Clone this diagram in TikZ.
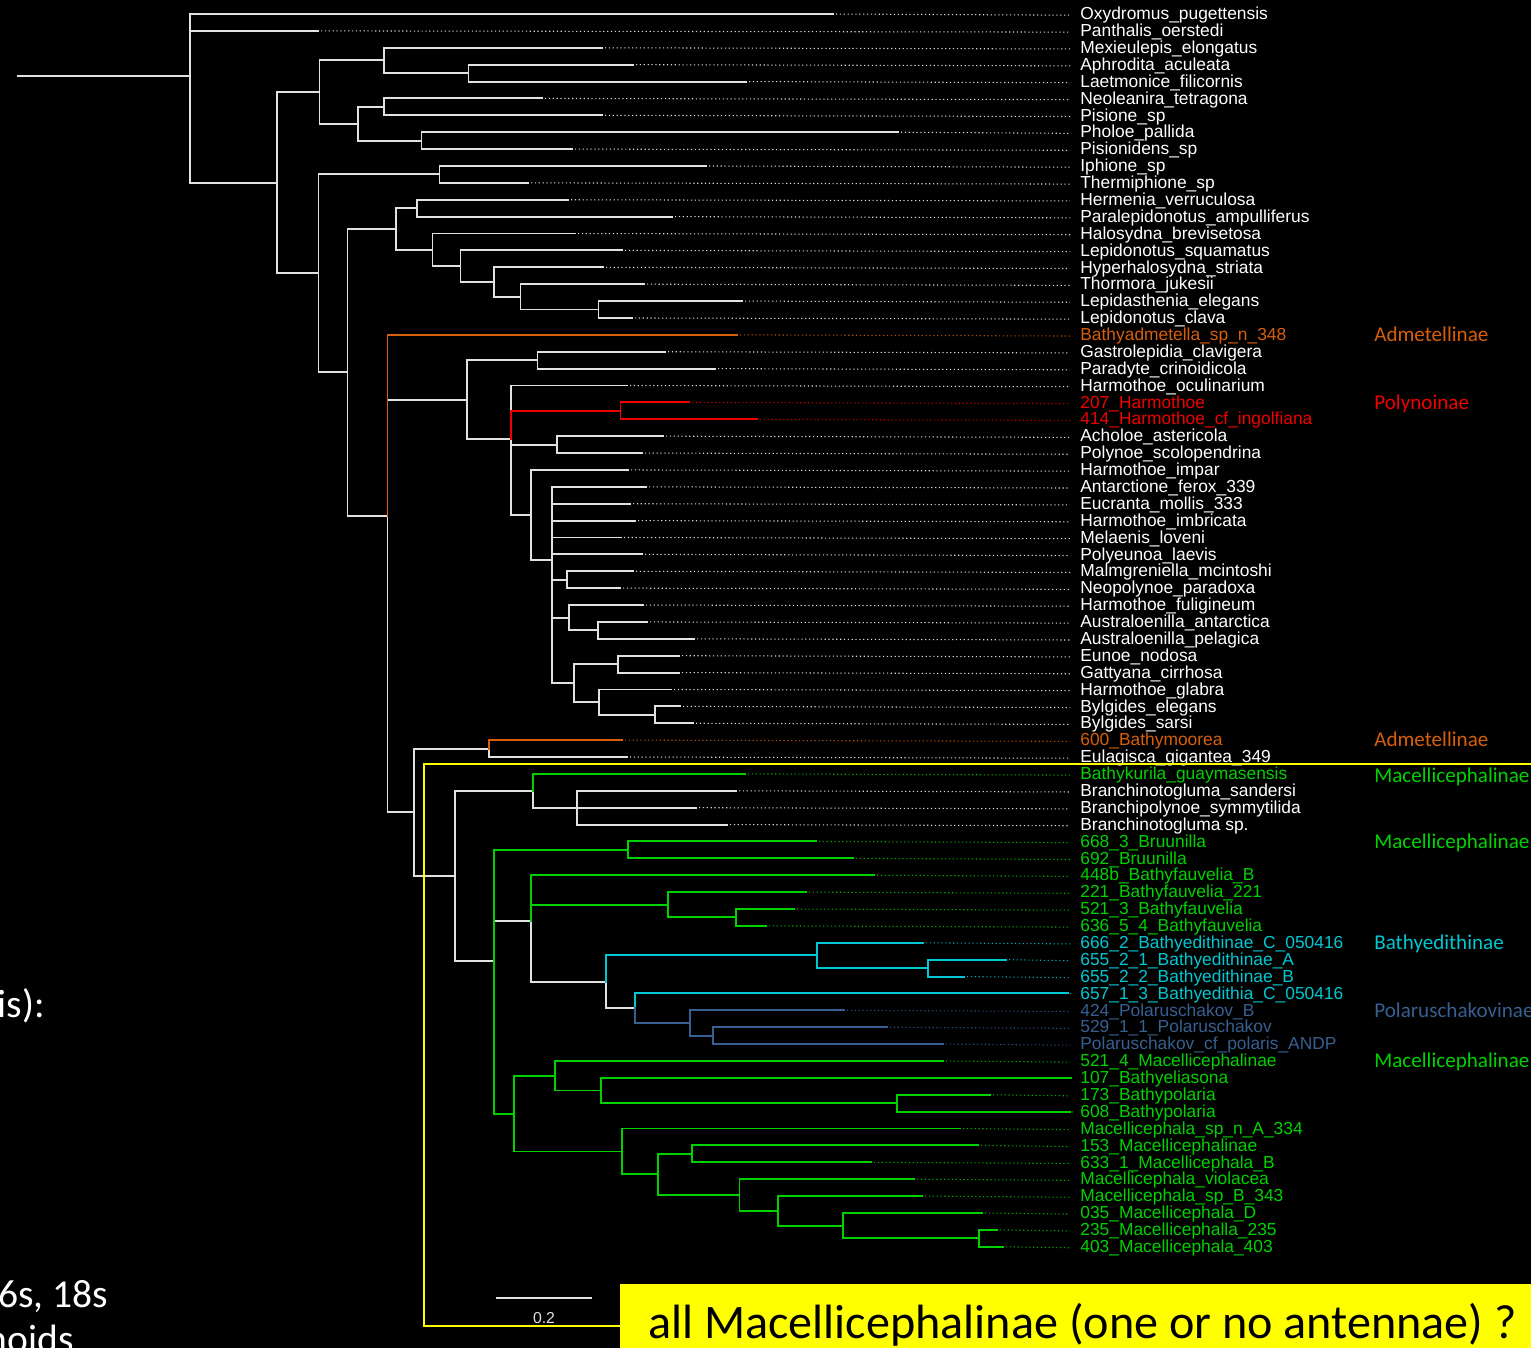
\documentclass[tikz,border=0pt]{standalone}
\usepackage{fontspec}
\setmainfont{Liberation Sans}
\newfontfamily\calfont{Carlito}
\usetikzlibrary{positioning}
\definecolor{treegray}{RGB}{225,225,225}
\definecolor{admorange}{RGB}{215,95,10}
\definecolor{polyred}{RGB}{240,0,0}
\definecolor{macgreen}{RGB}{0,210,0}
\definecolor{bathycyan}{RGB}{0,200,210}
\definecolor{polarblue}{RGB}{55,95,145}
\definecolor{markyellow}{RGB}{255,255,0}

\begin{document}
\begin{tikzpicture}[x=0.02cm, y=-0.02cm]
        \tikzstyle{branch}=[line width=1.1pt, line cap=rect]
        \tikzstyle{dotline}=[line width=0.6pt, dash pattern=on 0.7pt off 1.5pt, shorten <=0.06cm, shorten >=0.2cm]
        \tikzstyle{tiplab}=[anchor=west, inner sep=0pt, yshift=-0.7pt, font=\fontsize{9.9}{11}\selectfont, text height=7.2pt, text depth=2.1pt]
        \tikzstyle{grouplab}=[anchor=west, inner sep=0pt, font=\calfont\fontsize{12}{14}\selectfont, text height=7.7pt, text depth=0pt]
        \tikzstyle{slidetext}=[anchor=base east, inner sep=0pt, text=white, font=\calfont\fontsize{22.5}{27}\selectfont]

        % Canvas
        \useasboundingbox (0,0) rectangle (1531,1348);
        \fill[black] (0,0) rectangle (1531,1348);
        \clip (0,0) rectangle (1531,1348);

        % Tree: x in pixels, y in tip rows
        \begin{scope}[y=-0.3378cm, yshift=0.0578cm]
        % Tips, labels and dotted leaders
        \foreach \tx/\tcol/\tname [count=\i] in {
            833/white/Oxydromus\_pugettensis, 318/white/Panthalis\_oerstedi,
            602/white/Mexieulepis\_elongatus, 633/white/Aphrodita\_aculeata,
            746/white/Laetmonice\_filicornis, 542/white/Neoleanira\_tetragona,
            602/white/Pisione\_sp, 898/white/Pholoe\_pallida,
            572/white/Pisionidens\_sp, 706/white/Iphione\_sp,
            528/white/Thermiphione\_sp, 568/white/Hermenia\_verruculosa,
            672/white/Paralepidonotus\_ampulliferus, 575/white/Halosydna\_brevisetosa,
            622/white/Lepidonotus\_squamatus, 603/white/Hyperhalosydna\_striata,
            644/white/Thormora\_jukesii, 742/white/Lepidasthenia\_elegans,
            632/white/Lepidonotus\_clava, 737/admorange/Bathyadmetella\_sp\_n\_348,
            665/white/Gastrolepidia\_clavigera, 715/white/Paradyte\_crinoidicola,
            627/white/Harmothoe\_oculinarium, 689/polyred/207\_Harmothoe,
            757/polyred/414\_Harmothoe\_cf\_ingolfiana, 663/white/Acholoe\_astericola,
            642/white/Polynoe\_scolopendrina, 628/white/Harmothoe\_impar,
            646/white/Antarctione\_ferox\_339, 630/white/Eucranta\_mollis\_333,
            635/white/Harmothoe\_imbricata, 621/white/Melaenis\_loveni,
            642/white/Polyeunoa\_laevis, 633/white/Malmgreniella\_mcintoshi,
            620/white/Neopolynoe\_paradoxa, 643/white/Harmothoe\_fuligineum,
            647/white/Australoenilla\_antarctica, 694/white/Australoenilla\_pelagica,
            679/white/Eunoe\_nodosa, 679/white/Gattyana\_cirrhosa,
            671/white/Harmothoe\_glabra, 680/white/Bylgides\_elegans,
            693/white/Bylgides\_sarsi, 622/admorange/600\_Bathymoorea,
            627/white/Eulagisca\_gigantea\_349, 745/macgreen/Bathykurila\_guaymasensis,
            736/white/Branchinotogluma\_sandersi, 696/white/Branchipolynoe\_symmytilida,
            727/white/Branchinotogluma sp., 816/macgreen/668\_3\_Bruunilla,
            853/macgreen/692\_Bruunilla, 874/macgreen/448b\_Bathyfauvelia\_B,
            806/macgreen/221\_Bathyfauvelia\_221, 794/macgreen/521\_3\_Bathyfauvelia,
            766/macgreen/636\_5\_4\_Bathyfauvelia, 923/bathycyan/666\_2\_Bathyedithinae\_C\_050416,
            1006/bathycyan/655\_2\_1\_Bathyedithinae\_A, 964/bathycyan/655\_2\_2\_Bathyedithinae\_B,
            1068/bathycyan/657\_1\_3\_Bathyedithia\_C\_050416, 844/polarblue/424\_Polaruschakov\_B,
            887/polarblue/529\_1\_1\_Polaruschakov, 943/polarblue/Polaruschakov\_cf\_polaris\_ANDP,
            943/macgreen/521\_4\_Macellicephalinae, 1071/macgreen/107\_Bathyeliasona,
            990/macgreen/173\_Bathypolaria, 1070/macgreen/608\_Bathypolaria,
            960/macgreen/Macellicephala\_sp\_n\_A\_334, 978/macgreen/153\_Macellicephalinae,
            871/macgreen/633\_1\_Macellicephala\_B, 914/macgreen/Macellicephala\_violacea,
            922/macgreen/Macellicephala\_sp\_B\_343, 982/macgreen/035\_Macellicephala\_D,
            997/macgreen/235\_Macellicephalla\_235, 1003/macgreen/403\_Macellicephala\_403}{
            \coordinate (t\i) at (\tx,\i);
            \node[tiplab, text=\tcol] (l\i) at (1080,\i) {\tname};
            \draw[dotline, color=\tcol!85!black] (t\i) -- (l\i.west);
        }

        % Internal nodes
        \coordinate (stem) at (18,4.664);
        \coordinate (nRoot) at (190,4.664);
        \coordinate (nA) at (277,10.992);
        \coordinate (nB) at (319.5,5.625);
        \coordinate (nB1) at (384,3.75);
        \coordinate (nB1a) at (468.5,4.5);
        \coordinate (nB2) at (358,7.5);
        \coordinate (nB2a) at (384,6.5);
        \coordinate (nB2b) at (421.5,8.5);
        \coordinate (nC) at (318.5,16.359);
        \coordinate (nC1) at (439.5,10.5);
        \coordinate (nD) at (347.5,22.219);
        \coordinate (nE) at (396,13.734);
        \coordinate (nE1) at (417,12.5);
        \coordinate (nE2) at (432.5,14.969);
        \coordinate (nE3) at (460.5,15.938);
        \coordinate (nE4) at (494,16.875);
        \coordinate (nE5) at (520.5,17.75);
        \coordinate (nE6) at (598.5,18.5);
        \coordinate (nP) at (387.5,30.703);
        \coordinate (nP1) at (467,23.835);
        \coordinate (nP2) at (537.5,21.5);
        \coordinate (nP3) at (510.7,26.17);
        \coordinate (nRed) at (620.5,24.5);
        \coordinate (nP4) at (557,26.5);
        \coordinate (nP5) at (531.3,30.68);
        \coordinate (nP6) at (552.3,33.359);
        \coordinate (nP7) at (567,34.5);
        \coordinate (nP8) at (569,36.75);
        \coordinate (nP8a) at (597.7,37.5);
        \coordinate (nP9) at (574.3,40.625);
        \coordinate (nP9a) at (618.3,39.5);
        \coordinate (nP9b) at (599.3,41.75);
        \coordinate (nP9c) at (655.3,42.5);
        \coordinate (nM) at (414.3,48.275);
        \coordinate (nM1) at (489,44.5);
        \coordinate (nM2) at (455.3,52.05);
        \coordinate (nM3) at (533,47);
        \coordinate (nM3a) at (577,48);
        \coordinate (nM4) at (493.7,57.10);
        \coordinate (nBr) at (628.3,50.5);
        \coordinate (nM5) at (530.7,54.688);
        \coordinate (nBf) at (667.7,53.75);
        \coordinate (nBf2) at (736,54.5);
        \coordinate (nM6) at (605.7,58.313);
        \coordinate (nCy) at (817,56.75);
        \coordinate (nCy2) at (927.7,57.5);
        \coordinate (nM7) at (635,59.875);
        \coordinate (nPo) at (689.7,60.75);
        \coordinate (nPo2) at (712.7,61.5);
        \coordinate (nMac) at (514,66.117);
        \coordinate (nMac1) at (554.6,63.875);
        \coordinate (nMac3) at (601,64.75);
        \coordinate (nMac4) at (897,65.5);
        \coordinate (nMac2) at (622.4,68.359);
        \coordinate (nMac5) at (658,69.719);
        \coordinate (nMac6) at (692,68.5);
        \coordinate (nMac7) at (739.5,70.938);
        \coordinate (nMac8) at (777.7,71.875);
        \coordinate (nMac9) at (842.8,72.75);
        \coordinate (nMac10) at (978.7,73.5);

        % White branches first, coloured ones on top
        \draw[branch, treegray] (stem) -- (nRoot);
        \foreach \p/\c in {nRoot/t1, nRoot/t2, nRoot/nA, nA/nB, nA/nC, nB/nB1, nB/nB2,
            nB1/t3, nB1/nB1a, nB1a/t4, nB1a/t5, nB2/nB2a, nB2/nB2b, nB2a/t6, nB2a/t7,
            nB2b/t8, nB2b/t9, nC/nC1, nC/nD, nC1/t10, nC1/t11, nD/nE, nD/nP,
            nE/nE1, nE/nE2, nE1/t12, nE1/t13, nE2/t14, nE2/nE3, nE3/t15, nE3/nE4,
            nE4/t16, nE4/nE5, nE5/t17, nE5/nE6, nE6/t18, nE6/t19,
            nP/nP1, nP/nM, nP1/nP2, nP1/nP3, nP2/t21, nP2/t22, nP3/t23, nP3/nP4, nP3/nP5,
            nP4/t26, nP4/t27, nP5/t28, nP5/nP6, nP6/t29, nP6/t30, nP6/t31, nP6/t32, nP6/t33,
            nP6/nP7, nP6/nP8, nP6/nP9, nP7/t34, nP7/t35, nP8/t36, nP8/nP8a, nP8a/t37, nP8a/t38,
            nP9/nP9a, nP9/nP9b, nP9a/t39, nP9a/t40, nP9b/t41, nP9b/nP9c, nP9c/t42, nP9c/t43,
            nM/nM1, nM/nM2, nM1/t45, nM2/nM3, nM2/nM4, nM3/nM3a, nM3a/t47, nM3a/t48, nM3a/t49,
            nM4/nM5, nM5/nM6, nM6/nM7}
            \draw[branch, treegray] (\p) |- (\c);
        \foreach \p/\c in {nP/t20, nM1/t44}
            \draw[branch, admorange] (\p) |- (\c);
        \foreach \p/\c in {nP3/nRed, nRed/t24, nRed/t25}
            \draw[branch, polyred] (\p) |- (\c);
        \foreach \p/\c in {nM3/t46, nM4/nBr, nBr/t50, nBr/t51, nM5/t52, nM5/nBf, nBf/t53,
            nBf/nBf2, nBf2/t54, nBf2/t55, nM4/nMac, nMac/nMac1, nMac/nMac2, nMac1/t63,
            nMac1/nMac3, nMac3/t64, nMac3/nMac4, nMac4/t65, nMac4/t66, nMac2/t67, nMac2/nMac5,
            nMac5/nMac6, nMac5/nMac7, nMac6/t68, nMac6/t69, nMac7/t70, nMac7/nMac8, nMac8/t71,
            nMac8/nMac9, nMac9/t72, nMac9/nMac10, nMac10/t73, nMac10/t74}
            \draw[branch, macgreen] (\p) |- (\c);
        \foreach \p/\c in {nM6/nCy, nCy/t56, nCy/nCy2, nCy2/t57, nCy2/t58, nM7/t59}
            \draw[branch, bathycyan] (\p) |- (\c);
        \foreach \p/\c in {nM7/nPo, nPo/t60, nPo/nPo2, nPo2/t61, nPo2/t62}
            \draw[branch, polarblue] (\p) |- (\c);

        % Subfamily names
        \node[grouplab, text=admorange] (gAdm1) at (1374,20) {Admetellinae};
        \node[grouplab, text=polyred] (gPoly) at (1374,24) {Polynoinae};
        \node[grouplab, text=admorange] (gAdm2) at (1374,44) {Admetellinae};
        \node[grouplab, text=macgreen] (gMac1) at (1374,46.1) {Macellicephalinae};
        \node[grouplab, text=macgreen] (gMac2) at (1374,50) {Macellicephalinae};
        \node[grouplab, text=bathycyan] (gBathy) at (1374,56) {Bathyedithinae};
        \node[grouplab, text=polarblue] (gPolar) at (1374,60) {Polaruschakovinae};
        \node[grouplab, text=macgreen] (gMac3) at (1374,63) {Macellicephalinae};
        \end{scope}

        % Scale bar
        \coordinate (sbl) at (496,1298);
        \coordinate (sbm) at (544,1298);
        \coordinate (sbr) at (592,1298);
        \draw[treegray, line width=1.1pt] (sbl) -- (sbr);
        \node[below=0.28cm of sbm, inner sep=0pt, text=treegray, font=\fontsize{9}{10}\selectfont] (sblab) {0.2};

        % Yellow frame and question box
        \draw[markyellow, line width=1.4pt] (1540,764) -- (424,764) -- (424,1326) -- (620,1326);
        \fill[markyellow] (620,1284) rectangle (1540,1350);
        \node[anchor=base west, inner sep=0pt, font=\calfont\fontsize{27.4}{32}\selectfont] (question) at (648,1338) {all Macellicephalinae (one or no antennae) ?};

        % Slide text cut by the left edge
        \node[slidetext] (txtA) at (45,1017) {is):};
        \node[slidetext] (txtB) at (108.5,1307.7) {6s, 18s};
        \node[slidetext] (txtC) at (74,1352) {noids};
\end{tikzpicture}
\end{document}
